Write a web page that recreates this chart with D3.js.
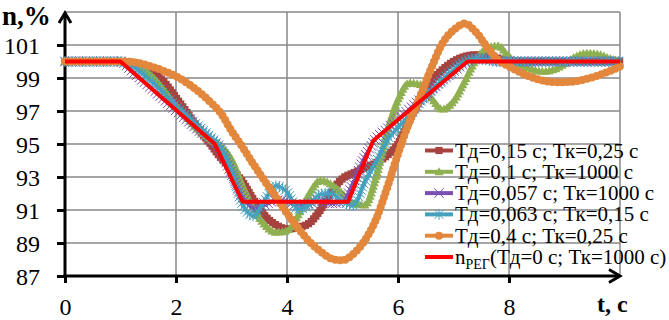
<!DOCTYPE html>
<html>
<head>
<meta charset="utf-8">
<script src="https://cdn.jsdelivr.net/npm/d3@7"></script>
<style>
  body { margin: 0; background: #fff; }
  svg { display: block; }
</style>
</head>
<body>
<svg id="chart" width="669" height="320"></svg>
<script>
// time grid, s
const times = [0, 0.2, 0.4, 0.6, 0.8, 1.0, 1.2, 1.4, 1.6, 1.8, 2.0,
  2.2, 2.4, 2.6, 2.8, 3.0, 3.2, 3.4, 3.6, 3.8, 4.0,
  4.2, 4.4, 4.6, 4.8, 5.0, 5.2, 5.4, 5.6, 5.8, 6.0,
  6.2, 6.4, 6.6, 6.8, 7.0, 7.2, 7.4, 7.6, 7.8, 8.0,
  8.2, 8.4, 8.6, 8.8, 9.0, 9.2, 9.4, 9.6, 9.8, 10.0];

// n, % for each case
const nTd015Tk025 = [100, 100, 100, 100, 100, 100,
  99.95, 99.75, 99.35, 98.7, 97.8,
  96.9, 95.95, 95.1, 94.2, 93.5,
  92.7, 91.6, 90.65, 90.1, 89.85,
  89.95, 90.2, 91.0, 92.1, 92.9,
  93.25, 93.55, 93.85, 94.3, 95.0,
  96.4, 97.7, 98.8, 99.5, 100.0,
  100.3, 100.4, 100.35, 100.2, 100.05,
  100, 100, 100, 100, 100,
  100, 100, 100, 100, 100];
const nTd01Tk1000 = [100, 100, 100, 100, 100, 100,
  99.9, 99.55, 99.0, 98.2, 97.3,
  96.6, 95.9, 95.3, 94.9, 94.1,
  92.5, 91.1, 90.1, 89.65, 89.75,
  90.7, 92.0, 92.8, 92.55, 92.0,
  91.4, 91.3, 92.95, 95.7, 97.7,
  98.7, 98.6, 97.8, 97.1, 97.6,
  98.8, 100.1, 100.8, 100.95, 100.3,
  99.85, 99.55, 99.4, 99.5, 99.85,
  100.3, 100.5, 100.45, 100.2, 100.0];
const nTd0057Tk1000 = [100, 100, 100, 100, 100, 100,
  99.45, 98.85, 98.25, 97.65, 97.05,
  96.45, 95.85, 95.3, 94.6, 93.2,
  91.8, 91.1, 91.3, 91.6, 91.5,
  91.3, 91.4, 91.55, 91.4, 91.5,
  92.7, 94.2, 95.3, 95.9, 96.5,
  97.1, 97.7, 98.3, 98.85, 99.4,
  99.9, 100.2, 100.2, 100.05, 100,
  100, 100, 100, 100, 100,
  100, 100, 100, 100, 100];
const nTd0063Tk015 = [100, 100, 100, 100, 100, 100,
  99.75, 99.25, 98.65, 98.0, 97.3,
  96.7, 96.1, 95.5, 94.8, 93.4,
  91.3, 90.65, 91.6, 92.45, 92.1,
  91.05, 91.3, 91.95, 92.0, 91.5,
  91.3, 92.7, 93.9, 95.2, 96.0,
  96.7, 97.5, 98.2, 98.9, 99.5,
  100.0, 100.15, 100.1, 100.0, 100,
  100, 100, 100, 100, 100,
  100, 100, 100, 100, 100];
const nTd04Tk025 = [100, 100, 100, 100, 100, 100,
  99.97, 99.85, 99.65, 99.4, 99.1,
  98.7, 98.2, 97.6, 96.9, 95.8,
  94.8, 93.75, 92.75, 91.8, 90.8,
  89.9, 89.1, 88.5, 88.05, 87.95,
  88.35, 89.15, 90.4, 92.3, 94.4,
  96.3, 97.9, 99.6, 101.1, 101.9,
  102.3, 101.8, 100.9, 100.1, 99.7,
  99.35, 99.05, 98.85, 98.75, 98.75,
  98.8, 98.95, 99.15, 99.4, 99.7];
// reference (regulator) curve, own time points
const regTimes = [0, 1, 2.7, 3.2, 5.1, 5.55, 7.25, 10];
const regValues = [100, 100, 95, 91.5, 91.5, 95.2, 100, 100];

const yTicks = [87, 89, 91, 93, 95, 97, 99, 101];
const yGrid = [89, 91, 93, 95, 97, 99, 101, 103];
const xTicks = [0, 2, 4, 6, 8];
const xGrid = [2, 4, 6, 8, 10];

const series = [
  { name: "Тд=0,15 с; Тк=0,25 с", values: nTd015Tk025, color: "#A6433F", marker: "square" },
  { name: "Тд=0,1 с; Тк=1000 с", values: nTd01Tk1000, color: "#8FB050", marker: "triangle" },
  { name: "Тд=0,057 с; Тк=1000 с", values: nTd0057Tk1000, color: "#7A4FB2", marker: "x" },
  { name: "Тд=0,063 с; Тк=0,15 с", values: nTd0063Tk015, color: "#45A0BE", marker: "star" },
  { name: "Тд=0,4 с; Тк=0,25 с", values: nTd04Tk025, color: "#E2873C", marker: "circle" }
];

const svg = d3.select("#chart");
svg.append("rect").attr("width", 669).attr("height", 320).attr("fill", "#fff");

const x = d3.scaleLinear().domain([0, 10]).range([65, 620]);
const y = d3.scaleLinear().domain([87, 103]).range([276, 12]);
const serif = "'Liberation Serif', 'Times New Roman', serif";

// grid
svg.append("g").selectAll("line").data(yGrid).join("line")
  .attr("x1", x(0)).attr("x2", x(10))
  .attr("y1", d => y(d)).attr("y2", d => y(d))
  .attr("stroke", "#878787").attr("stroke-width", 1.5);
svg.append("g").selectAll("line").data(xGrid).join("line")
  .attr("x1", d => x(d)).attr("x2", d => x(d))
  .attr("y1", y(87)).attr("y2", y(103))
  .attr("stroke", "#878787").attr("stroke-width", 1.5);

// axes
const yAxis = svg.append("g").attr("transform", `translate(${x(0)},0)`)
  .call(d3.axisLeft(y).tickValues(yTicks).tickSize(8).tickSizeOuter(0).tickPadding(17));
const xAxis = svg.append("g").attr("transform", `translate(0,${y(87)})`)
  .call(d3.axisBottom(x).tickValues(xTicks).tickSize(7).tickSizeOuter(0).tickPadding(14));
[yAxis, xAxis].forEach(a => {
  a.select(".domain").remove();
  a.selectAll(".tick line").attr("stroke", "#000").attr("stroke-width", 3);
  a.selectAll(".tick text").attr("fill", "#000")
    .style("font-family", serif).style("font-size", "24px");
});
yAxis.selectAll(".tick text").attr("dy", "0.36em");
xAxis.selectAll(".tick text").attr("dy", "0.75em");

// axis lines with arrows
svg.append("line").attr("x1", x(0)).attr("x2", x(0)).attr("y1", y(87) + 1.5).attr("y2", 13)
  .attr("stroke", "#000").attr("stroke-width", 3);
svg.append("line").attr("x1", x(0) - 1.5).attr("x2", 619).attr("y1", y(87)).attr("y2", y(87))
  .attr("stroke", "#000").attr("stroke-width", 3);
svg.append("path").attr("d", "M59,23 L65,13 L71,23")
  .attr("fill", "none").attr("stroke", "#000").attr("stroke-width", 3);
svg.append("path").attr("d", "M609,269.5 L620,276 L609,282.5")
  .attr("fill", "none").attr("stroke", "#000").attr("stroke-width", 3);

svg.append("text").attr("x", 2).attr("y", 25).text("n,%")
  .style("font-family", serif).style("font-weight", "bold").style("font-size", "27px");
svg.append("text").attr("x", 597).attr("y", 312).text("t, c")
  .style("font-family", serif).style("font-weight", "bold").style("font-size", "24px");

function marker(g, kind, color, px, py) {
  if (kind === "square") {
    g.append("rect").attr("x", px - 3.6).attr("y", py - 3.6)
      .attr("width", 7.2).attr("height", 7.2).attr("fill", color);
  } else if (kind === "triangle") {
    g.append("path").attr("d", "M0,-4.6 L4.6,3.4 L-4.6,3.4 Z")
      .attr("transform", `translate(${px},${py})`).attr("fill", color);
  } else if (kind === "circle") {
    g.append("circle").attr("cx", px).attr("cy", py).attr("r", 4).attr("fill", color);
  } else if (kind === "x") {
    g.append("path").attr("d", "M-4.8,-4.8 L4.8,4.8 M-4.8,4.8 L4.8,-4.8")
      .attr("transform", `translate(${px},${py})`)
      .attr("stroke", color).attr("stroke-width", 1).attr("fill", "none");
  } else if (kind === "star") {
    g.append("path").attr("d", "M-4.5,-4.5 L4.5,4.5 M-4.5,4.5 L4.5,-4.5 M0,-5.5 L0,5.5")
      .attr("transform", `translate(${px},${py})`)
      .attr("stroke", color).attr("stroke-width", 1).attr("fill", "none");
  }
}

const line = d3.line()
  .x((d, i) => x(times[i]))
  .y(d => y(d))
  .curve(d3.curveMonotoneX);

const plot = svg.append("g");
series.forEach(s => {
  const g = plot.append("g");
  const p = g.append("path").attr("d", line(s.values))
    .attr("fill", "none").attr("stroke", s.color).attr("stroke-width", 3);
  const node = p.node();
  const len = node.getTotalLength();
  const step = s.marker === "circle" ? 5 : 3.5;
  for (let l = 0; l <= len; l += step) {
    const pt = node.getPointAtLength(l);
    marker(g, s.marker, s.color, pt.x, pt.y);
  }
});

const regLine = d3.line().x((d, i) => x(regTimes[i])).y(d => y(d));
plot.append("path").attr("d", regLine(regValues))
  .attr("fill", "none").attr("stroke", "#FF0000").attr("stroke-width", 4)
  .attr("stroke-linejoin", "round");

// legend
const lg = svg.append("g").style("font-family", serif).style("font-size", "21px");
const rowY = i => 150.5 + i * 21.3;
series.forEach((s, i) => {
  lg.append("line").attr("x1", 425).attr("x2", 453).attr("y1", rowY(i)).attr("y2", rowY(i))
    .attr("stroke", s.color).attr("stroke-width", 4);
  marker(lg, s.marker, s.color, 439, rowY(i));
  lg.append("text").attr("x", 455).attr("y", rowY(i) + 7).text(s.name);
});
lg.append("line").attr("x1", 425).attr("x2", 453).attr("y1", rowY(5)).attr("y2", rowY(5))
  .attr("stroke", "#FF0000").attr("stroke-width", 4);
const regText = lg.append("text").attr("x", 455).attr("y", rowY(5) + 7);
regText.append("tspan").text("n");
regText.append("tspan").attr("dy", 5).style("font-size", "14px").text("РЕГ");
regText.append("tspan").attr("dy", -5).text("(Тд=0 с; Тк=1000 с)");
</script>
</body>
</html>
